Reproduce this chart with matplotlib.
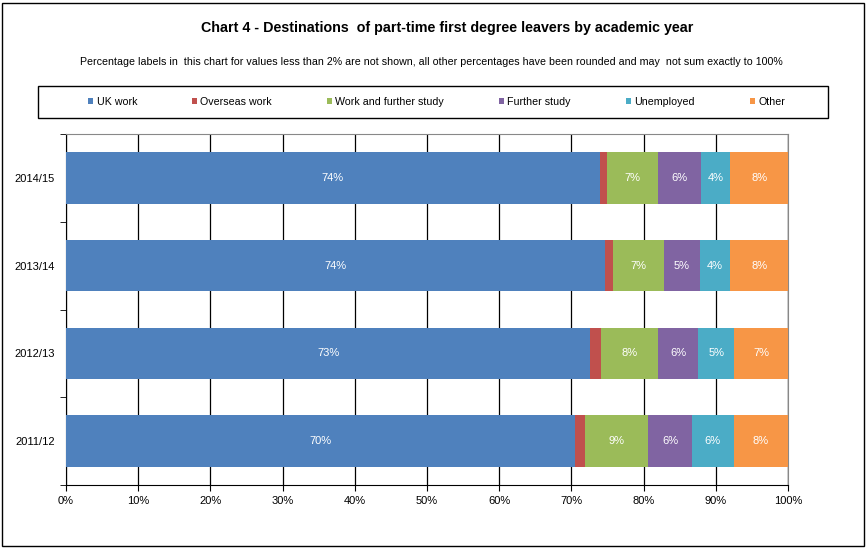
import matplotlib
matplotlib.use("Agg")
import matplotlib.pyplot as plt
from matplotlib.patches import Rectangle, Patch

plt.rcParams['font.family'] = ['Liberation Sans', 'DejaVu Sans']

years = ['2014/15', '2013/14', '2012/13', '2011/12']
series_names = ['UK work', 'Overseas work', 'Work and further study', 'Further study', 'Unemployed', 'Other']
uk_work = [73.9, 74.6, 72.6, 70.5]
overseas_work = [1.0, 1.2, 1.5, 1.4]
work_study = [7.1, 7.0, 7.9, 8.7]
further_study = [5.9, 5.0, 5.6, 6.1]
unemployed = [4.1, 4.2, 4.9, 5.8]
other = [8.0, 8.0, 7.5, 7.5]
labels = {
    'UK work': ['74%', '74%', '73%', '70%'],
    'Overseas work': ['', '', '', ''],
    'Work and further study': ['7%', '7%', '8%', '9%'],
    'Further study': ['6%', '5%', '6%', '6%'],
    'Unemployed': ['4%', '4%', '5%', '6%'],
    'Other': ['8%', '8%', '7%', '8%'],
}
colors = ['#4F81BD', '#C0504D', '#9BBB59', '#8064A2', '#4BACC6', '#F79646']
data = [uk_work, overseas_work, work_study, further_study, unemployed, other]

W, H = 866, 548
fig = plt.figure(figsize=(W / 100, H / 100), dpi=100)
fig.patches.append(Rectangle((1.5 / W, 2.5 / H), (W - 4) / W, (H - 5) / H,
                             transform=fig.transFigure, fill=False,
                             edgecolor='black', linewidth=1.0))
# legend frame
fig.patches.append(Rectangle((38 / W, 1 - 118 / H), (828 - 38) / W, 32 / H,
                             transform=fig.transFigure, fill=False,
                             edgecolor='black', linewidth=1.0))

ax = fig.add_axes([66 / W, 1 - 485 / H, (788 - 66) / W, (485 - 134) / H])

ypos = list(range(len(years)))
left = [0.0] * len(years)
for name, vals, col in zip(series_names, data, colors):
    bars = ax.barh(ypos, vals, left=left, height=0.585, color=col, label=name, zorder=3)
    for b, lab in zip(bars, labels[name]):
        if lab:
            ax.text(b.get_x() + b.get_width() / 2, b.get_y() + b.get_height() / 2, lab,
                    ha='center', va='center', color='white', fontsize=8, zorder=4)
    left = [l + v for l, v in zip(left, vals)]

ax.set_xlim(0, 100)
ax.set_ylim(len(years) - 0.5, -0.5)
ax.set_xticks(range(0, 101, 10))
ax.set_xticklabels([f'{v}%' for v in range(0, 101, 10)], fontsize=8)
ax.set_yticks(ypos)
ax.set_yticklabels(years, fontsize=8)
ax.tick_params(axis='y', length=0, pad=8)
ax.tick_params(axis='x', length=4, direction='out', pad=4)
ax.set_yticks([i - 0.5 for i in range(len(years) + 1)], minor=True)
ax.tick_params(axis='y', which='minor', length=4, direction='out')
ax.grid(axis='x', color='black', linewidth=0.9, zorder=0)
ax.axvline(100, color='#888888', linewidth=0.9, zorder=1)
ax.spines['top'].set_color('#888888')
ax.spines['right'].set_color('#888888')
ax.spines['left'].set_color('black')
ax.spines['bottom'].set_color('black')

fig.text(447 / W, 1 - 28 / H, 'Chart 4 - Destinations  of part-time first degree leavers by academic year',
         ha='center', va='center', fontsize=10.3, fontweight='bold')
fig.text(431 / W, 1 - 62 / H,
         'Percentage labels in  this chart for values less than 2% are not shown, all other percentages have been rounded and may  not sum exactly to 100%',
         ha='center', va='center', fontsize=7.7)

handles = [Patch(facecolor=c, edgecolor='none') for c in colors]
leg = fig.legend(handles, series_names, loc='center',
                 bbox_to_anchor=(88 / W, 1 - 114 / H, (785 - 88) / W, 24 / H),
                 mode='expand', ncol=6, fontsize=7.7, frameon=False,
                 handlelength=0.5, handleheight=0.5, handletextpad=0.3,
                 borderpad=0.0, borderaxespad=0.0)

fig.savefig('out.png', dpi=100)
